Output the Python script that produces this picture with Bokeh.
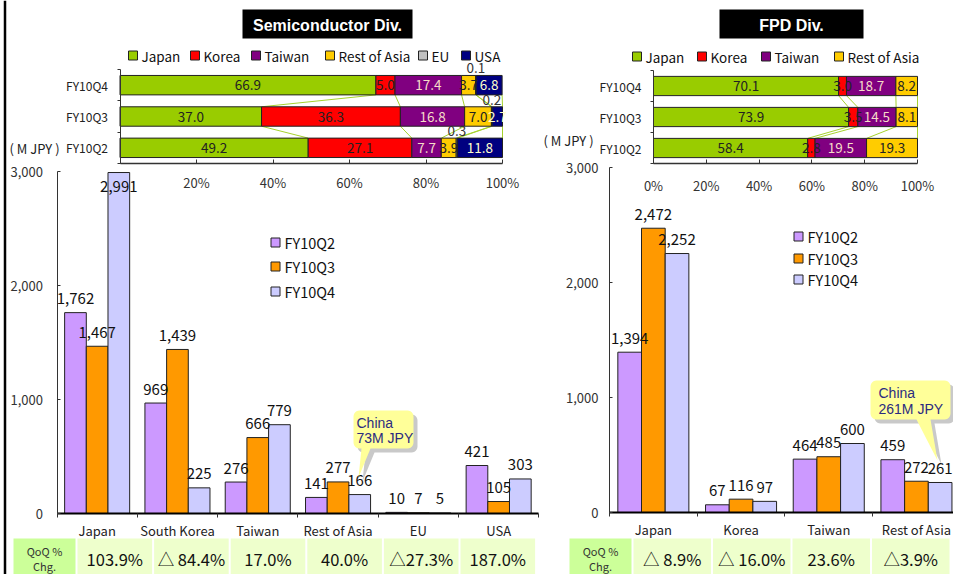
import numpy as np
from bokeh.plotting import figure
from bokeh.models import Range1d, LinearAxis, FixedTicker, NumeralTickFormatter, CustomJSTickFormatter
from bokeh.layouts import row
from bokeh.embed import file_html
from bokeh.resources import INLINE
from bokeh.core.properties import value

# ---------------- data ----------------
quarters = ["FY10Q2", "FY10Q3", "FY10Q4"]
value_ticks = [0, 1000, 2000, 3000]
pct_ticks = [0, 20, 40, 60, 80, 100]

semi_share_names = ["Japan", "Korea", "Taiwan", "Rest of Asia", "EU", "USA"]
semi_share_q2 = [49.2, 27.1, 7.7, 3.9, 0.3, 11.8]
semi_share_q3 = [37.0, 36.3, 16.8, 7.0, 0.2, 2.7]
semi_share_q4 = [66.9, 5.0, 17.4, 3.7, 0.1, 6.8]

semi_categories = ["Japan", "South Korea", "Taiwan", "Rest of Asia", "EU", "USA"]
semi_q2 = [1762, 969, 276, 141, 10, 421]
semi_q3 = [1467, 1439, 666, 277, 7, 105]
semi_q4 = [2991, 225, 779, 166, 5, 303]
semi_qoq = ["103.9%", "△ 84.4%", "17.0%", "40.0%", "△27.3%", "187.0%"]
semi_note = ["China", "73M JPY"]

fpd_share_names = ["Japan", "Korea", "Taiwan", "Rest of Asia"]
fpd_share_q2 = [58.4, 2.8, 19.5, 19.3]
fpd_share_q3 = [73.9, 3.5, 14.5, 8.1]
fpd_share_q4 = [70.1, 3.0, 18.7, 8.2]

fpd_categories = ["Japan", "Korea", "Taiwan", "Rest of Asia"]
fpd_q2 = [1394, 67, 464, 459]
fpd_q3 = [2472, 116, 485, 272]
fpd_q4 = [2252, 97, 600, 261]
fpd_qoq = ["△ 8.9%", "△ 16.0%", "23.6%", "△3.9%"]
fpd_note = ["China", "261M JPY"]

# ---------------- style ----------------
share_colors = ["#99CC00", "#FF0000", "#800080", "#FFCC00", "#C0C0C0", "#000080"]
share_text_colors = ["#222222", "#222222", "#F5DCC8", "#222222", "#333333", "#FFFFCC"]
bar_colors = ["#CC99FF", "#FF9900", "#CCCCFF"]
FONT = "Noto Sans CJK JP"
SANS = "Liberation Sans"
TOP, BOTTOM = 0, 574


def lin(v0, r0, v1, r1, lo, hi):
    s = (r1 - r0) / (v1 - v0)
    return Range1d(start=v0 + (lo - r0) / s, end=v0 + (hi - r0) / s)


def callout_poly(box, base, tip, r=6):
    x0, x1, y0, y1 = box
    pts = []

    def arc(cx, cy, a0, a1):
        for a in np.linspace(a0, a1, 7):
            pts.append((cx + r * np.cos(a), cy + r * np.sin(a)))

    arc(x1 - r, y0 + r, -np.pi / 2, 0)
    arc(x1 - r, y1 - r, 0, np.pi / 2)
    pts.extend([(base[1], y1), tip, (base[0], y1)])
    arc(x0 + r, y1 - r, np.pi / 2, np.pi)
    arc(x0 + r, y0 + r, np.pi, 1.5 * np.pi)
    xs, ys = zip(*pts)
    return list(xs), list(ys)


def panel(cfg):
    x0, x1 = cfg["x0"], cfg["x1"]
    W, H = x1 - x0, BOTTOM - TOP
    cats = cfg["cats"]
    n = len(cats)
    p = figure(width=W, height=H,
               x_range=lin(0, cfg["ax_x"], 1, cfg["ax_x"] + cfg["cat_w"], x0, x1),
               y_range=lin(0, cfg["y0"], 3000, cfg["y3000"], BOTTOM, TOP),
               x_axis_type=None, y_axis_type=None, toolbar_location=None,
               output_backend="svg", min_border=0, outline_line_color=None,
               background_fill_color="white", border_fill_color="white")
    p.extra_x_ranges = {"pct": lin(0, cfg["p0"], 100, cfg["p100"], x0, x1),
                        "px": Range1d(x0, x1)}
    p.extra_y_ranges = {"pcty": lin(0, 163, 3, cfg["row_top"], BOTTOM, TOP),
                        "py": Range1d(BOTTOM, TOP)}
    PX = dict(x_range_name="px", y_range_name="py")
    PC = dict(x_range_name="pct", y_range_name="pcty")

    # page border
    if cfg["border_x"] is not None:
        p.segment(x0=[cfg["border_x"]], y0=[TOP], x1=[cfg["border_x"]], y1=[BOTTOM],
                  line_color="black", line_width=2.5, **PX)

    # title box
    tb = cfg["title_box"]
    p.quad(left=[tb[0]], right=[tb[1]], top=[tb[2]], bottom=[tb[3]],
           fill_color="black", line_color=None, **PX)
    p.text(x=[(tb[0] + tb[1]) / 2], y=[(tb[2] + tb[3]) / 2 + 1], text=[cfg["title"]],
           text_color="white", text_font=value(SANS), text_font_style="bold",
           text_font_size="16px", text_align="center", text_baseline="middle", **PX)

    # share legend
    names = cfg["share_names"]
    k = len(names)
    lx = np.array(cfg["share_leg_x"], dtype=float)
    ly = [cfg["share_leg_y"]] * k
    p.scatter(x=lx + 4.5, y=ly, marker="square", size=9, fill_color=share_colors[:k],
              line_color="#222222", line_width=1, **PX)
    p.text(x=lx + 13, y=ly, text=names, text_font=value(FONT), text_font_size="13.5px",
           text_color="#111111", text_baseline="middle", **PX)

    # 100% stacked bars
    h = 0.62
    shares = [np.array(s, dtype=float) for s in cfg["shares"]]
    cums = [np.cumsum(s) for s in shares]
    L, R, Y, C, LX, LY, LT, LC, LO = [], [], [], [], [], [], [], [], []
    for r, (s, c) in enumerate(zip(shares, cums)):
        for i in range(k):
            L.append(c[i] - s[i]); R.append(c[i]); Y.append(r + 0.5); C.append(share_colors[i])
            LX.append(c[i] - s[i] / 2)
            if names[i] == "EU":
                LY.append(r + 0.5 + h / 2); LO.append(-7)
            else:
                LY.append(r + 0.5); LO.append(0)
            LT.append("{:.1f}".format(s[i])); LC.append(share_text_colors[i])
    sx0, sy0, sx1, sy1 = [], [], [], []
    for r in range(len(cums) - 1):
        for i in range(k):
            sx0.append(cums[r][i]); sy0.append(r + 0.5 + h / 2)
            sx1.append(cums[r + 1][i]); sy1.append(r + 1.5 - h / 2)
    p.segment(x0=sx0, y0=sy0, x1=sx1, y1=sy1, line_color="#A6D22E", line_width=1, **PC)
    p.hbar(y=Y, left=L, right=R, height=h, fill_color=C, line_color="#222222", line_width=1, **PC)
    p.text(x=LX, y=LY, text=LT, text_color=LC, y_offset=LO, text_font=value(FONT),
           text_font_size="13.5px", text_align="center", text_baseline="middle", **PC)

    axis_common = dict(major_label_text_font=FONT, major_label_text_font_size="13px",
                       major_label_text_color="#333333", minor_tick_line_color=None,
                       axis_line_color="#333333", major_tick_line_color="#333333")
    pax = LinearAxis(x_range_name="pct", y_range_name="pcty", fixed_location=0, bounds=(0, 100),
                     ticker=FixedTicker(ticks=pct_ticks),
                     formatter=CustomJSTickFormatter(args=dict(hide=cfg["hide_zero"]),
                                                     code="return (hide && tick == 0) ? '' : tick + '%'"),
                     major_tick_in=4, major_tick_out=0, major_label_standoff=cfg["pct_standoff"],
                     axis_line_width=1.5, **axis_common)
    p.add_layout(pax, "below")
    pay = LinearAxis(x_range_name="pct", y_range_name="pcty", fixed_location=0, bounds=(0, 3),
                     ticker=FixedTicker(ticks=[0, 1, 2, 3]),
                     formatter=CustomJSTickFormatter(code="return ''"),
                     major_tick_in=0, major_tick_out=3, **axis_common)
    p.add_layout(pay, "left")
    pal = LinearAxis(x_range_name="pct", y_range_name="pcty", fixed_location=0,
                     ticker=FixedTicker(ticks=[0.5, 1.5, 2.5]),
                     formatter=CustomJSTickFormatter(args=dict(labels=quarters),
                                                     code="return labels[Math.floor(tick)]"),
                     major_label_standoff=6, **axis_common)
    pal.axis_line_color = None
    pal.major_tick_line_color = None
    pal.major_label_text_color = "#222222"
    pal.major_label_text_font_size = "12px"
    p.add_layout(pal, "left")

    # unit label
    p.text(x=[cfg["unit_xy"][0]], y=[cfg["unit_xy"][1]], text=["( M JPY )"],
           text_font=value(FONT), text_font_size="13px", text_color="#222222",
           text_baseline="middle", **PX)

    # grouped bars (all bars first, then their labels)
    offs = [-0.27, 0.0, 0.27]
    series = [np.array(v, dtype=float) for v in (cfg["q2"], cfg["q3"], cfg["q4"])]
    for qi, vals in enumerate(series):
        xs = np.arange(n) + 0.5 + offs[qi]
        p.vbar(x=xs, top=vals, bottom=0, width=0.27, fill_color=bar_colors[qi],
               line_color="#222222", line_width=1)
    for qi, vals in enumerate(series):
        xs = np.arange(n) + 0.5 + offs[qi]
        p.text(x=xs, y=np.minimum(vals, 2750), text=["{:,}".format(int(v)) for v in vals],
               y_offset=-14, text_font=value(FONT), text_font_size="15px",
               text_color="#111111", text_align="center", text_baseline="middle")

    vax = LinearAxis(fixed_location=0, bounds=(0, 3000), ticker=FixedTicker(ticks=value_ticks),
                     formatter=NumeralTickFormatter(format="0,0"), major_tick_in=3,
                     major_tick_out=0, major_label_standoff=cfg["val_standoff"], **axis_common)
    p.add_layout(vax, "left")
    bax = LinearAxis(fixed_location=0, bounds=(0, n), ticker=FixedTicker(ticks=list(range(n + 1))),
                     formatter=CustomJSTickFormatter(code="return ''"), major_tick_in=0,
                     major_tick_out=4, **axis_common)
    bax.axis_line_color = "black"
    bax.axis_line_width = 2
    p.add_layout(bax, "below")
    cax = LinearAxis(fixed_location=0, ticker=FixedTicker(ticks=[i + 0.5 for i in range(n)]),
                     formatter=CustomJSTickFormatter(args=dict(labels=cats),
                                                     code="return labels[Math.floor(tick)]"),
                     major_label_standoff=1, **axis_common)
    cax.axis_line_color = None
    cax.major_tick_line_color = None
    cax.major_label_text_color = "#222222"
    p.add_layout(cax, "below")

    # bar legend
    bl_y = cfg["bar_leg_y"]
    p.scatter(x=[cfg["bar_leg_x"]] * 3, y=bl_y, marker="square", size=9, fill_color=bar_colors,
              line_color="#222222", **PX)
    p.text(x=[cfg["bar_leg_x"] + 9] * 3, y=bl_y, text=quarters, text_font=value(FONT),
           text_font_size="14.5px", text_color="#111111", text_baseline="middle", **PX)

    # callout
    cxs, cys = callout_poly(cfg["note_box"], cfg["note_base"], cfg["note_tip"])
    p.patch(x=[v + 4 for v in cxs], y=[v + 4 for v in cys], fill_color="#BBBBBB",
            fill_alpha=0.8, line_color=None, **PX)
    p.patch(x=cxs, y=cys, fill_color="#FFFF99", line_color=None, **PX)
    nb = cfg["note_box"]
    p.text(x=[nb[0] + cfg["note_pad"]] * 2, y=cfg["note_text_y"], text=cfg["note"],
           text_font=value(SANS), text_font_size="14px", text_color="#2B2B80",
           text_baseline="middle", **PX)

    # QoQ table
    th = cfg["table_head"]
    ty0 = 538
    p.quad(left=[th[0]], right=[th[1]], top=[ty0], bottom=[BOTTOM + 2], fill_color="#CCFF99",
           line_color=None, **PX)
    p.text(x=[(th[0] + th[1]) / 2] * 2, y=[550, 565], text=["QoQ %", "Chg."],
           text_font=value(FONT), text_font_size="11px", text_color="#333333",
           text_align="center", text_baseline="middle", **PX)
    qoq = cfg["qoq"]
    cl = np.array([cfg["table_x"] + i * cfg["table_pitch"] for i in range(len(qoq))])
    cr = cl + cfg["table_pitch"] - 2
    p.quad(left=cl, right=cr, top=[ty0] * len(qoq), bottom=[BOTTOM + 2] * len(qoq),
           fill_color="#EEFFCC", line_color=None, **PX)
    p.text(x=(cl + cr) / 2, y=[558] * len(qoq), text=qoq, text_font=value(FONT),
           text_font_size="16.5px", text_color="#111111", text_align="center",
           text_baseline="middle", **PX)
    return p


left_cfg = dict(
    x0=0, x1=540, border_x=4.5, cats=semi_categories, ax_x=56.5, cat_w=80.3, y0=513, y3000=171,
    p0=119.5, p100=502, row_top=69, title="Semiconductor Div.", title_box=(242, 412, 9, 38),
    share_names=semi_share_names, share_leg_x=[128, 190, 251, 325, 418, 461], share_leg_y=55,
    shares=[semi_share_q2, semi_share_q3, semi_share_q4], hide_zero=True, pct_standoff=9,
    unit_xy=(9, 148), q2=semi_q2, q3=semi_q3, q4=semi_q4, val_standoff=14,
    bar_leg_x=275, bar_leg_y=[242, 266, 291],
    note=semi_note, note_box=(353, 413, 410, 448), note_base=(361, 370), note_tip=(358, 477),
    note_pad=3, note_text_y=[422, 437],
    table_head=(13, 75), table_x=77, table_pitch=76.6, qoq=semi_qoq)

right_cfg = dict(
    x0=540, x1=953, border_x=None, cats=fpd_categories, ax_x=609, cat_w=87.7, y0=512, y3000=167,
    p0=653, p100=917, row_top=70, title="FPD Div.", title_box=(719, 863, 9, 38),
    share_names=fpd_share_names, share_leg_x=[632, 697, 761, 834], share_leg_y=56,
    shares=[fpd_share_q2, fpd_share_q3, fpd_share_q4], hide_zero=False, pct_standoff=12,
    unit_xy=(543, 140), q2=fpd_q2, q3=fpd_q3, q4=fpd_q4, val_standoff=11,
    bar_leg_x=798, bar_leg_y=[236, 258, 279],
    note=fpd_note, note_box=(870, 950, 380, 419), note_base=(916, 930), note_tip=(937, 460),
    note_pad=8, note_text_y=[392, 408],
    table_head=(569, 631), table_x=633, table_pitch=79.5, qoq=fpd_qoq)

p = row(panel(left_cfg), panel(right_cfg))
open("out.html", "w").write(file_html(p, INLINE))
